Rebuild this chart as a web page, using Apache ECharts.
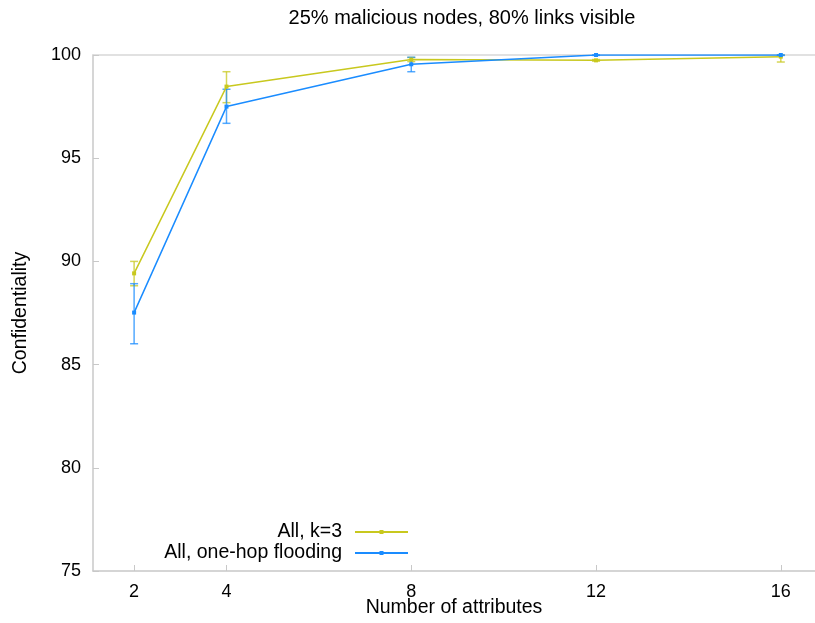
<!DOCTYPE html>
<html><head><meta charset="utf-8">
<script src="https://cdn.jsdelivr.net/npm/echarts@6/dist/echarts.min.js"></script>
<style>html,body{margin:0;padding:0;background:#fff}#c{width:815px;height:623px}</style>
</head><body><div id="c"></div>
<script>
const xValues = [2, 4, 8, 12, 16];
const kValues = [89.42, 98.47, 99.78, 99.74, 99.92];
const kLow = [88.82, 97.69, 99.68, 99.70, 99.66];
const kHigh = [90.0, 99.19, 99.88, 99.78, 100.0];
const floodValues = [87.52, 97.5, 99.55, 100.0, 100.0];
const floodLow = [86.01, 96.69, 99.19, 99.98, 99.98];
const floodHigh = [88.92, 98.34, 99.89, 100.0, 100.0];
const xTicks = [2, 4, 8, 12, 16];
const yTicks = [75, 80, 85, 90, 95, 100];
const names = ['All, k=3', 'All, one-hop flooding'];
const colors = ['#c8c81e', '#1a8cff'];

const font = 'Liberation Sans, Arial, sans-serif';
function errSeries(low, high, color) {
  return {
    type: 'custom', silent: true, z: 3,
    data: xValues.map((x, i) => [x, low[i], high[i]]),
    encode: {x: 0, y: [1, 2]},
    renderItem: function (params, api) {
      const lo = api.coord([api.value(0), api.value(1)]);
      const hi = api.coord([api.value(0), api.value(2)]);
      const w = 4;
      const st = {stroke: color, lineWidth: 1.5, opacity: 0.75};
      return {type: 'group', children: [
        {type: 'line', shape: {x1: lo[0], y1: lo[1], x2: hi[0], y2: hi[1]}, style: st},
        {type: 'line', shape: {x1: lo[0]-w, y1: lo[1], x2: lo[0]+w, y2: lo[1]}, style: st},
        {type: 'line', shape: {x1: hi[0]-w, y1: hi[1], x2: hi[0]+w, y2: hi[1]}, style: st}
      ]};
    }
  };
}
const legendText = {fontSize: 19.5, color: '#000', fontFamily: font, padding: [0, 8, 0, 0]};
const chart = echarts.init(document.getElementById('c'));
chart.setOption({
  animation: false,
  textStyle: {fontFamily: font},
  title: {text: '25% malicious nodes, 80% links visible', left: 457, textAlign: 'center', top: 3,
    textStyle: {fontSize: 20, fontWeight: 'normal', color: '#000', fontFamily: font}},
  grid: {left: 93, right: 0, top: 55, bottom: 52, containLabel: false, outerBoundsMode: 'none'},
  legend: [
    {data: [names[0]], right: 401, top: 517, align: 'right', itemWidth: 53, itemHeight: 5, itemGap: 0,
     padding: 5, textStyle: legendText},
    {data: [names[1]], right: 401, top: 538, align: 'right', itemWidth: 53, itemHeight: 5, itemGap: 0,
     padding: 5, textStyle: legendText}
  ],
  xAxis: [{
    type: 'value', min: 1.11, max: 16.74,
    name: 'Number of attributes', nameLocation: 'middle', nameGap: 27, nameMoveOverlap: false,
    nameTextStyle: {fontSize: 19.5, color: '#000', fontFamily: font},
    axisLine: {show: true, lineStyle: {color: '#c8c8c8', width: 1.5}},
    axisTick: {show: true, inside: true, length: 6, lineStyle: {color: '#c8c8c8'},
      customValues: xTicks},
    axisLabel: {fontSize: 18, color: '#000', margin: 12, customValues: xTicks, fontFamily: font},
    splitLine: {show: false}
  }, {
    type: 'value', position: 'top', min: 1.11, max: 16.74,
    axisLine: {show: true, lineStyle: {color: '#d8d8d8', width: 1.5}},
    axisTick: {show: false}, axisLabel: {show: false}, splitLine: {show: false}
  }],
  yAxis: {
    type: 'value', min: 75, max: 100, interval: 5,
    name: 'Confidentiality', nameLocation: 'middle', nameGap: 62, nameMoveOverlap: false,
    nameTextStyle: {fontSize: 19.5, color: '#000', fontFamily: font},
    axisLine: {show: true, lineStyle: {color: '#c8c8c8', width: 1.5}},
    axisTick: {show: true, inside: true, length: 6, lineStyle: {color: '#c8c8c8'}},
    axisLabel: {fontSize: 18, color: '#000', margin: 12, fontFamily: font,
      customValues: yTicks},
    splitLine: {show: false}
  },
  series: [
    errSeries(kLow, kHigh, colors[0]),
    errSeries(floodLow, floodHigh, colors[1]),
    {name: names[0], type: 'line', data: xValues.map((x, i) => [x, kValues[i]]),
     color: colors[0], symbol: 'rect', symbolSize: 4, showSymbol: true, z: 4,
     lineStyle: {width: 1.5}, itemStyle: {color: colors[0]}},
    {name: names[1], type: 'line', data: xValues.map((x, i) => [x, floodValues[i]]),
     color: colors[1], symbol: 'rect', symbolSize: 4, showSymbol: true, z: 5,
     lineStyle: {width: 1.5}, itemStyle: {color: colors[1]}}
  ]
});
</script></body></html>
